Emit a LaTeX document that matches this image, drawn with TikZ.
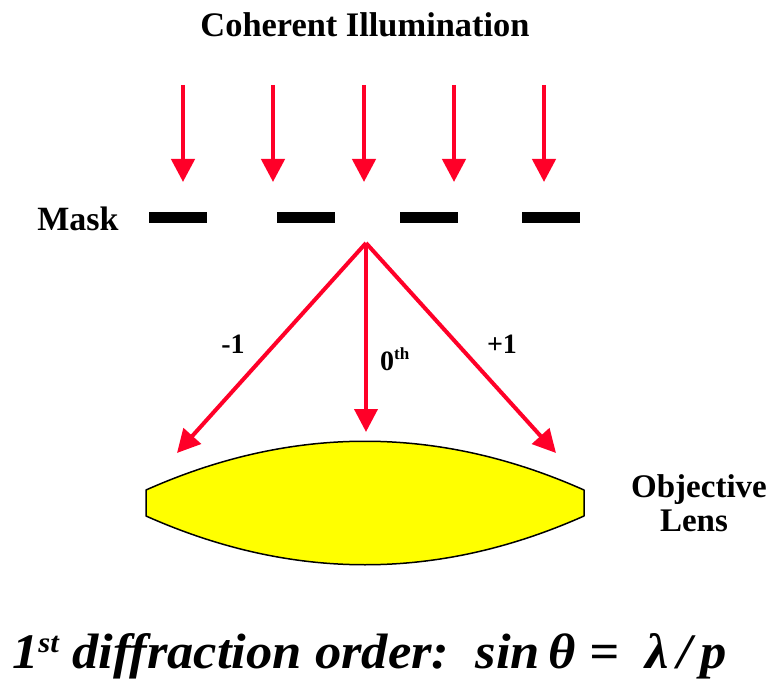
\documentclass[tikz,border=0pt]{standalone}
\usepackage{fontspec}
\setmainfont{Liberation Serif}
\usetikzlibrary{arrows.meta}
\definecolor{rayred}{RGB}{255,0,40}
\definecolor{lensyellow}{RGB}{255,255,0}
\tikzset{
  ray/.style={draw=rayred, line width=4.4pt, -{Triangle[width=23pt,length=23pt]}},
  dray/.style={draw=rayred, line width=4pt, -{Triangle[width=23pt,length=23pt]}},
  bar/.style={fill=black, draw=none},
  lbl/.style={inner sep=0pt, font=\fontsize{33}{36}\selectfont\bfseries, anchor=base},
  ordlbl/.style={inner sep=0pt, font=\fontsize{28}{30}\selectfont\bfseries, anchor=base},
  lensstyle/.style={fill=lensyellow, draw=black, line width=1.5pt, line join=round}
}
\begin{document}
\begin{tikzpicture}[x=1pt,y=-1pt]
\useasboundingbox (0,0) rectangle (772,682);
% title
\node[lbl, font=\fontsize{34.4}{36}\selectfont\bfseries] (title) at (365,37) {Coherent Illumination};
% incoming rays
\foreach \i/\x in {1/183,2/273,3/364,4/454,5/544}{
  \coordinate (s\i) at (\x,85);
  \coordinate (t\i) at (\x,182);
  \draw[ray] (s\i) -- (t\i);
}
% mask
\node[lbl, font=\fontsize{34}{36}\selectfont\bfseries] (mask) at (78,231) {Mask};
\fill[bar] (149,212) rectangle (207,223);
\fill[bar] (277,212) rectangle (335,223);
\fill[bar] (400,212) rectangle (458,223);
\fill[bar] (522,212) rectangle (580,223);
% diffraction
\coordinate (apex) at (366,243);
\coordinate (tm) at (177,453);
\coordinate (t0) at (366,432);
\coordinate (tp) at (556,453);
\draw[dray] (apex) -- (tm);
\draw[dray] (apex) -- (t0);
\draw[dray] (apex) -- (tp);
\node[ordlbl] (lm) at (233,353) {-1};
\node[ordlbl] (lp) at (502,353) {+1};
\node[ordlbl, anchor=base west] (l0) at (380,370) {0\raisebox{11pt}{\fontsize{17}{17}\selectfont th}};
% lens
\path[lensstyle] (146,490) .. controls (292,425) and (438,425) .. (584,490)
  -- (584,516) .. controls (438,581) and (292,581) .. (146,516) -- cycle;
\node[lbl] (obj) at (699,497) {Objective};
\node[lbl] (lens) at (694,531) {Lens};
% formula
\node[inner sep=0pt, anchor=base west] (formula) at (12,668) {\resizebox{715pt}{35pt}{\fontsize{48}{50}\selectfont\bfseries\itshape 1\raisebox{15pt}{\fontsize{28}{28}\selectfont st} diffraction order:\ \ sin\,θ = \ λ\,/\,p}};
\end{tikzpicture}
\end{document}
